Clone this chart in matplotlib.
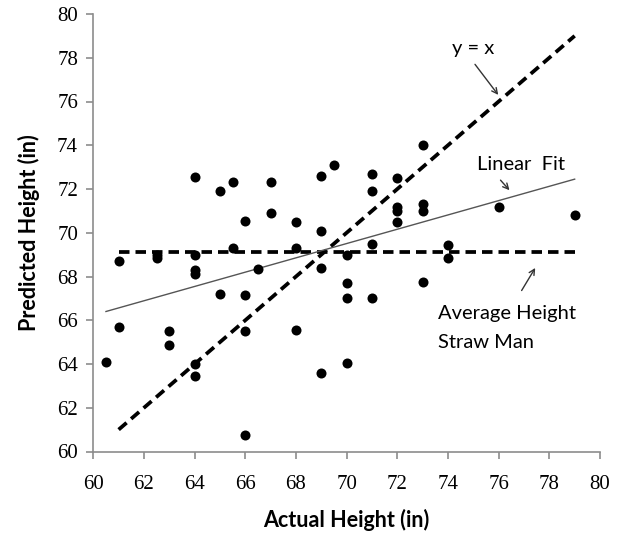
import matplotlib
matplotlib.use("Agg")
import matplotlib.pyplot as plt
import numpy as np

# Data
actual = [60.5, 61, 61, 62.5, 62.5, 63, 63,
          64, 64, 64, 64, 64, 64, 65, 65, 65.5, 65.5,
          66, 66, 66, 66, 66.5, 67, 67, 68, 68, 68,
          69, 69, 69, 69, 69.5, 70, 70, 70, 70,
          71, 71, 71, 71, 72, 72, 72, 72,
          73, 73, 73, 73, 74, 74, 76, 79]
predicted = [64.1, 68.7, 65.7, 69.0, 68.85, 65.5, 64.85,
             72.55, 69.0, 68.3, 68.1, 64.0, 63.45, 71.9, 67.2, 72.3, 69.3,
             70.55, 67.15, 65.5, 60.75, 68.35, 72.3, 70.9, 70.5, 69.3, 65.55,
             72.6, 70.1, 68.4, 63.6, 73.1, 69.0, 67.7, 67.0, 64.05,
             72.7, 71.9, 69.5, 67.0, 72.5, 71.2, 71.0, 70.5,
             74.0, 71.3, 71.0, 67.75, 69.45, 68.85, 71.2, 70.8]

identity_x = [61, 79]
avg_height = 69.1
avg_x = [61, 79]
fit_x = [60.5, 79]
fit_y = [66.4, 72.45]

xticks = np.arange(60, 81, 2)
yticks = np.arange(60, 81, 2)

fig = plt.figure(figsize=(6.24, 5.40), dpi=100)
ax = fig.add_axes([93.3 / 624, (540 - 451.5) / 540, 506.7 / 624, 437.5 / 540])

ax.plot(identity_x, identity_x, color="black", lw=2.7, dashes=(2.8, 1.6), zorder=2)
ax.plot(avg_x, [avg_height, avg_height], color="black", lw=2.7, dashes=(2.8, 1.6), zorder=2)
ax.plot(fit_x, fit_y, color="#555555", lw=1.0, zorder=2)
ax.scatter(actual, predicted, s=52, color="black", zorder=3, linewidths=0)

ax.set_xlim(60, 80)
ax.set_ylim(60, 80)
ax.set_xticks(xticks)
ax.set_yticks(yticks)

tickfont = dict(family="Liberation Serif", size=15)
ax.set_xticklabels([str(t) for t in xticks], fontdict=tickfont)
ax.set_yticklabels([str(t) for t in yticks], fontdict=tickfont)

for side in ["top", "right"]:
    ax.spines[side].set_visible(False)
for side in ["left", "bottom"]:
    ax.spines[side].set_color("#8c8c8c")
    ax.spines[side].set_linewidth(1.2)
ax.tick_params(axis="both", direction="out", length=5, width=1.2, color="#8c8c8c",
               labelcolor="black", pad=6)
ax.tick_params(axis="x", pad=12)

ax.set_xlabel("Actual Height (in)", fontsize=15.5, fontweight="bold", family="Lato", labelpad=11)
ax.set_ylabel("Predicted Height (in)", fontsize=15.5, fontweight="bold", family="Lato", labelpad=12)

afont = dict(family="Lato", fontsize=14.5, color="black")
ax.text(75.0, 78.4, "y = x", ha="center", va="center", **afont)
ax.annotate("", xy=(76.05, 76.2), xytext=(75.0, 77.8),
            arrowprops=dict(arrowstyle="->", color="#333333", lw=1.0))
ax.text(76.9, 73.1, "Linear  Fit", ha="center", va="center", **afont)
ax.annotate("", xy=(76.5, 71.85), xytext=(76.0, 72.5),
            arrowprops=dict(arrowstyle="->", color="#333333", lw=1.0))
ax.text(73.6, 66.3, "Average Height", ha="left", va="center", **afont)
ax.text(73.6, 65.0, "Straw Man", ha="left", va="center", **afont)
ax.annotate("", xy=(77.5, 68.5), xytext=(76.85, 67.25),
            arrowprops=dict(arrowstyle="->", color="#333333", lw=1.0))

fig.savefig("out.png", dpi=100)
